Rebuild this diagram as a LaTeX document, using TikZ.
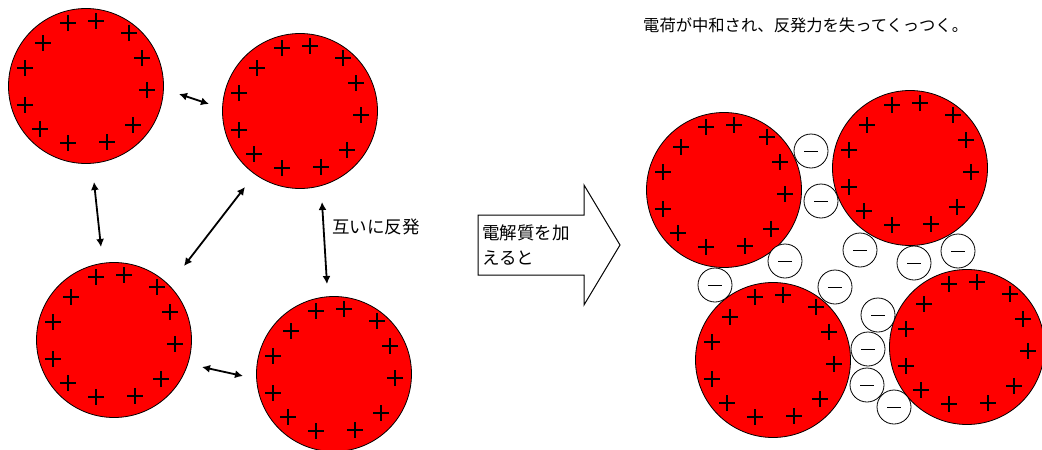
\documentclass[tikz,border=0pt]{standalone}
\usepackage{fontspec}
\setmainfont{Noto Sans CJK JP}
\usetikzlibrary{arrows.meta}
\definecolor{colloidred}{RGB}{255,0,0}
\tikzset{
  particle/.style={circle,draw=black,line width=0.8pt,fill=colloidred,minimum size=155pt,inner sep=0pt},
  ion/.style={circle,draw=black,line width=0.8pt,fill=white,minimum size=34pt,inner sep=0pt,
    path picture={\draw[line width=0.9pt] ([xshift=-7pt]path picture bounding box.center) -- ([xshift=7pt]path picture bounding box.center);}},
  repel/.style={{Latex[length=8pt,width=8pt]}-{Latex[length=8pt,width=8pt]},line width=1.8pt},
  jptext/.style={inner sep=0pt,anchor=west}
}
\newcommand{\pluscharges}[1]{%
  \foreach \dx/\dy in {-18/-63,10/-65,43/-53,56/-28,61/4,47/39,21/56,-18/57,-46/43,-61/19,-61/-18,-43/-43}
    \draw[line width=1.6pt,shift={(#1)}] (\dx-8,\dy) -- (\dx+8,\dy) (\dx,\dy-8) -- (\dx,\dy+8);}

\begin{document}
\begin{tikzpicture}[x=1pt,y=-1pt]
  \clip (0,0) rectangle (1042,450);
  % dispersed particles, all charged +
  \node[particle] (p1) at (86,86) {};
  \node[particle] (p2) at (300,111) {};
  \node[particle] (p3) at (114,340) {};
  \node[particle] (p4) at (334,374) {};
  \foreach \p in {p1,p2,p3,p4} {\pluscharges{\p}}
  \coordinate (r12a) at (179,94);  \coordinate (r12b) at (209,104);
  \coordinate (r13a) at (94,182);  \coordinate (r13b) at (101,247);
  \coordinate (r23a) at (245,187); \coordinate (r23b) at (184,266);
  \coordinate (r24a) at (322,202); \coordinate (r24b) at (327,284);
  \coordinate (r34a) at (202,367); \coordinate (r34b) at (243,376);
  \draw[repel] (r12a) -- (r12b);
  \draw[repel] (r13a) -- (r13b);
  \draw[repel] (r23a) -- (r23b);
  \draw[repel] (r24a) -- (r24b);
  \draw[repel] (r34a) -- (r34b);
  \node[jptext,font=\fontsize{17.5}{25}\selectfont] (repeltxt) at (332,227) {互いに反発};
  % block arrow
  \draw[line width=1pt] (478,215) -- (584,215) -- (584,185) -- (620,245) -- (584,305) -- (584,275) -- (478,275) -- cycle;
  \node[jptext,align=left,font=\fontsize{17.5}{25}\selectfont] (addtxt) at (482,245) {電解質を加\\えると};
  % flocculated particles with anions
  \node[particle] (q1) at (724,190) {};
  \node[particle] (q2) at (910,168) {};
  \node[particle] (q3) at (773,360) {};
  \node[particle] (q4) at (967,347) {};
  \foreach \q in {q1,q2,q3,q4} {\pluscharges{\q}}
  \node[ion] (n1) at (811,151) {};
  \node[ion] (n2) at (821,201) {};
  \node[ion] (n3) at (785,261) {};
  \node[ion] (n4) at (860,250) {};
  \node[ion] (n5) at (914,263) {};
  \node[ion] (n6) at (958,251) {};
  \node[ion] (n7) at (715,285) {};
  \node[ion] (n8) at (835,287) {};
  \node[ion] (n9) at (878,315) {};
  \node[ion] (n10) at (868,349) {};
  \node[ion] (n11) at (867,385) {};
  \node[ion] (n12) at (894,407) {};
  \node[jptext,font=\fontsize{16.3}{20}\selectfont] (resulttxt) at (643,25) {電荷が中和され、反発力を失ってくっつく。};
\end{tikzpicture}
\end{document}
